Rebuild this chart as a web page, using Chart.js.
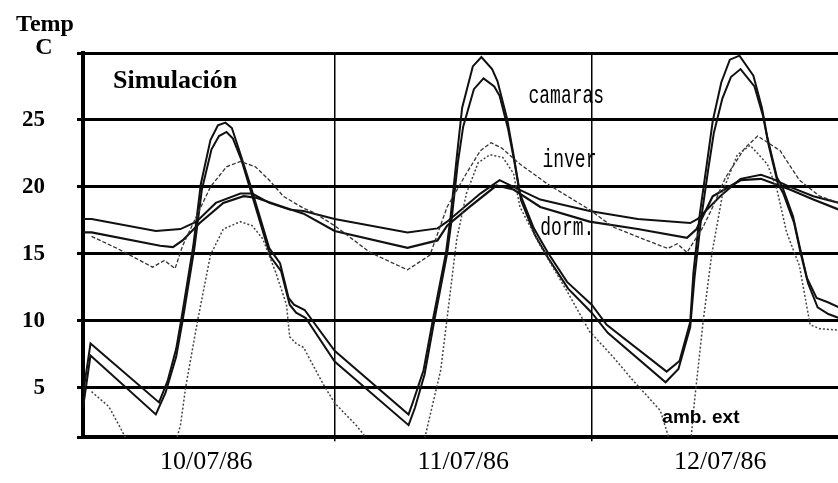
<!DOCTYPE html>
<html>
<head>
<meta charset="utf-8">
<script src="https://cdn.jsdelivr.net/npm/chart.js@4.4.0/dist/chart.umd.min.js"></script>
<style>
  body { margin: 0; background: #fff; }
  #wrap { width: 838px; height: 483px; }
</style>
</head>
<body>
<div id="wrap"><canvas id="simChart" width="838" height="483"></canvas></div>
<script>
// hours since 00:00 10/07/86, temperature in C
const dayLabels = ["10/07/86", "11/07/86", "12/07/86"];
const dayTicks = [12, 36, 60];
const dayLines = [24, 48];
const yTicks = [1.3, 5, 10, 15, 20, 25, 30];

const camarasA = [[0.5,4.5],[1.2,8.3],[7.6,3.9],[8.4,5.5],[9.2,7.9],[9.7,10.2],[10.8,15.6],[11.5,20.2],[12.4,23.5],[13.1,24.6],[13.8,24.8],[14.4,24.4],[15.1,22.7],[16.1,20.2],[17.0,17.8],[17.9,15.4],[18.9,14.3],[19.7,11.7],[20.2,11.2],[21.2,10.8],[24.0,7.75],[30.9,3.0],[31.3,3.9],[32.3,6.3],[33.2,10.2],[34.4,15.1],[34.8,17.6],[35.4,22.2],[35.9,25.9],[36.9,29.0],[37.7,29.7],[38.7,28.8],[39.2,27.9],[40.1,25.1],[40.7,22.4],[41.3,19.5],[42.6,16.9],[43.9,15.1],[45.7,12.9],[48.0,11.2],[49.4,9.7],[55.0,6.2],[56.2,7.0],[57.2,9.9],[57.5,13.6],[58.1,18.0],[58.8,22.0],[59.3,24.9],[60.1,27.8],[60.9,29.5],[61.8,29.8],[63.1,28.3],[63.9,25.9],[64.4,23.7],[65.3,20.7],[65.8,20.0],[66.8,17.8],[67.4,15.6],[68.1,13.2],[69.0,11.7],[70.0,11.4],[71.1,11.0]];
const camarasB = [[0.5,3.5],[1.2,7.4],[7.3,3.0],[8.2,4.6],[9.2,7.3],[9.8,10.0],[10.9,15.4],[11.6,19.8],[12.5,22.8],[13.2,23.8],[13.9,24.1],[14.5,23.6],[15.3,22.0],[16.2,19.6],[17.1,17.2],[18.0,14.8],[19.0,13.7],[19.8,11.2],[20.4,10.6],[21.3,10.2],[24.0,6.95],[30.9,2.2],[31.5,3.5],[32.4,6.0],[33.3,10.0],[34.5,15.0],[34.9,17.4],[35.5,21.8],[36.0,24.5],[37.0,27.3],[37.9,28.1],[38.9,27.5],[39.4,26.8],[40.2,24.3],[40.8,21.8],[41.4,19.0],[42.7,16.4],[44.0,14.6],[45.8,12.4],[48.0,10.6],[49.5,9.1],[54.9,5.4],[56.1,6.4],[57.2,9.5],[57.6,13.2],[58.2,17.5],[58.9,21.4],[59.4,24.0],[60.2,26.6],[61.0,28.2],[61.9,28.8],[63.2,27.5],[64.0,25.3],[64.5,23.2],[65.4,20.2],[65.9,19.5],[66.9,17.3],[67.5,15.1],[68.2,12.8],[69.1,11.0],[70.1,10.5],[71.1,10.2]];
const dormA = [[0.5,17.6],[1.3,17.6],[7.3,16.7],[9.6,16.85],[11.1,17.4],[12.9,18.8],[15.2,19.5],[16.3,19.5],[17.9,18.8],[19.8,18.3],[21.1,18.2],[24.0,17.6],[30.8,16.6],[33.6,16.9],[34.5,17.4],[37.6,19.5],[39.4,20.5],[40.7,20.0],[43.2,19.05],[47.8,18.2],[52.3,17.6],[57.2,17.3],[57.9,17.6],[60.0,19.3],[61.9,20.6],[63.8,20.9],[64.9,20.6],[66.5,20.0],[68.7,19.3],[71.1,18.8]];
const dormB = [[0.5,16.6],[1.3,16.6],[7.7,15.6],[8.9,15.5],[9.8,16.0],[11.4,17.3],[13.6,18.8],[15.5,19.3],[16.6,19.2],[19.2,18.5],[21.1,18.0],[24.0,16.7],[30.8,15.45],[33.6,16.0],[34.5,17.1],[36.6,18.5],[39.1,20.1],[40.7,19.8],[43.2,18.5],[47.8,17.4],[52.3,16.85],[56.9,16.2],[57.8,16.85],[59.3,19.3],[61.9,20.5],[63.8,20.6],[66.5,19.8],[68.7,19.05],[71.1,18.3]];
const inver = [[1.3,16.3],[3.7,15.4],[7.0,14.0],[8.1,14.5],[9.1,13.9],[9.8,15.6],[10.8,17.3],[12.4,20.0],[13.9,21.5],[15.2,21.9],[16.6,21.5],[17.9,20.5],[19.2,19.3],[21.1,18.4],[22.0,18.1],[24.0,17.1],[27.3,15.1],[30.8,13.8],[32.9,14.9],[34.5,18.5],[36.3,21.0],[37.6,22.7],[38.6,23.3],[39.6,22.9],[41.3,21.7],[43.9,20.2],[47.8,18.3],[50.0,17.0],[52.5,16.2],[55.1,15.4],[56.0,15.75],[56.9,15.1],[58.4,17.0],[59.3,18.5],[60.5,20.7],[62.3,22.9],[63.5,23.8],[65.6,22.7],[67.4,20.5],[69.3,19.3],[71.1,18.8]];
const ambExt = [[1.3,4.7],[2.9,3.6],[5.0,0.5],[9.0,0.5],[9.6,2.2],[10.1,5.1],[11.2,10.0],[12.4,14.9],[13.6,16.85],[15.2,17.4],[16.3,17.1],[17.3,16.1],[18.5,13.6],[19.5,11.2],[19.8,8.8],[20.4,8.3],[21.1,8.0],[22.9,5.3],[24.0,3.85],[26.0,2.2],[27.7,0.5],[32.2,0.5],[32.9,2.9],[33.9,6.3],[34.5,10.2],[35.4,16.1],[36.3,19.5],[37.4,21.8],[38.5,22.4],[39.7,22.2],[40.7,21.0],[41.3,18.5],[43.2,15.6],[45.7,12.2],[47.8,9.2],[50.0,7.3],[51.9,5.5],[54.4,3.3],[55.5,0.5],[57.2,0.5],[57.6,4.0],[58.4,9.9],[59.2,14.9],[60.3,19.8],[61.6,22.4],[62.8,23.1],[64.4,21.7],[65.3,19.8],[66.2,16.6],[67.4,14.1],[68.1,11.0],[68.4,9.7],[69.3,9.4],[71.1,9.3]];

function pts(arr) {
    return arr.map(p => ({ x: p[0], y: p[1] }));
}

// texts written on the plot, placed in data units
const notes = [
    { text: "Simulación", x: 3.3, y: 27.9, font: "bold 26px 'Liberation Serif'", stretch: 1 },
    { text: "camaras", x: 42.1, y: 26.8, font: "18px 'Liberation Mono'", stretch: 1.45 },
    { text: "inver", x: 43.4, y: 22.0, font: "18px 'Liberation Mono'", stretch: 1.45 },
    { text: "dorm.", x: 43.2, y: 16.9, font: "18px 'Liberation Mono'", stretch: 1.45 },
    { text: "amb. ext", x: 54.6, y: 2.75, font: "bold 19px 'Liberation Sans'", stretch: 1 }
];

const textPlugin = {
    id: 'texts',
    afterDraw(chart) {
        const ctx = chart.ctx;
        const xs = chart.scales.x, ys = chart.scales.y;
        ctx.save();
        ctx.fillStyle = '#000';
        ctx.textBaseline = 'middle';
        ctx.textAlign = 'left';
        notes.forEach(n => {
            ctx.save();
            ctx.translate(xs.getPixelForValue(n.x), ys.getPixelForValue(n.y));
            ctx.scale(1, n.stretch);
            ctx.font = n.font;
            ctx.fillText(n.text, 0, 0);
            ctx.restore();
        });
        // axis unit, top left
        ctx.font = "bold 24px 'Liberation Serif'";
        ctx.textAlign = 'center';
        ctx.fillText("Temp", 45, 25);
        ctx.fillText("C", 44, 48);
        ctx.restore();
    }
};

function line(data, width, dash, color) {
    return {
        data: pts(data),
        borderColor: color,
        borderWidth: width,
        borderDash: dash,
        pointRadius: 0,
        fill: false,
        tension: 0
    };
}

new Chart("simChart", {
    type: "line",
    data: {
        datasets: [
            line(ambExt, 1.5, [2, 2], '#444'),
            line(inver, 1.3, [4, 2], '#333'),
            line(dormA, 2, [], '#111'),
            line(dormB, 2.2, [], '#111'),
            line(camarasA, 2, [], '#111'),
            line(camarasB, 2, [], '#111')
        ]
    },
    options: {
        responsive: false,
        animation: false,
        layout: { padding: { top: 53, right: 0, left: 0, bottom: 0 } },
        plugins: { legend: { display: false }, tooltip: { enabled: false } },
        scales: {
            x: {
                type: 'linear',
                min: 0.5,
                max: 71,
                afterBuildTicks: s => { s.ticks = [12, 24, 36, 48, 60].map(v => ({ value: v })); },
                afterFit: s => { s.height = 40; },
                border: { display: true, color: '#000', width: 4 },
                grid: {
                    color: c => (c.tick && dayLines.includes(c.tick.value)) ? '#000' : 'rgba(0,0,0,0)',
                    lineWidth: 1.5,
                    tickLength: 4
                },
                ticks: {
                    autoSkip: false,
                    maxRotation: 0,
                    padding: 5,
                    color: '#000',
                    font: { family: 'Liberation Serif', size: 26 },
                    callback: v => {
                        const i = dayTicks.indexOf(v);
                        return i >= 0 ? dayLabels[i] : '';
                    }
                }
            },
            y: {
                type: 'linear',
                min: 1.3,
                max: 30,
                afterBuildTicks: s => { s.ticks = yTicks.map(v => ({ value: v })); },
                afterFit: s => { s.width = 83; },
                border: { display: true, color: '#000', width: 4 },
                grid: {
                    color: '#000',
                    lineWidth: 3,
                    tickLength: 6
                },
                ticks: {
                    padding: 32,
                    color: '#000',
                    font: { family: 'Liberation Serif', size: 23, weight: 'bold' },
                    callback: v => (v % 5 === 0 && v < 30) ? String(v) : ''
                }
            }
        }
    },
    plugins: [textPlugin]
});
</script>
</body>
</html>
